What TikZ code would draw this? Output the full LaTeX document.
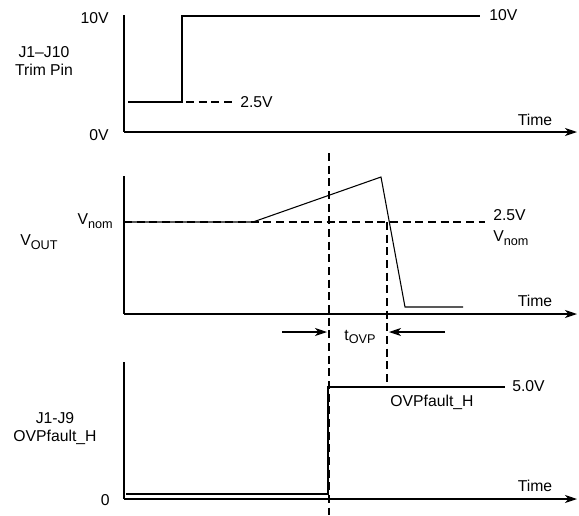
\documentclass[tikz,border=0pt]{standalone}
\usepackage{fontspec}
\setmainfont{Liberation Sans}
\usetikzlibrary{arrows.meta}
\usetikzlibrary{calc}

\newcommand{\lowtxt}[1]{\raisebox{-0.4ex}{\fontsize{9.5}{10}\selectfont #1}}

\tikzset{
	axis/.style={line width=0.9pt,-{Stealth[length=9pt,width=6pt,inset=2.5pt]}},
	wave/.style={line width=0.8pt},
	guide/.style={line width=0.8pt,dash pattern=on 6pt off 3.5pt},
	lbl/.style={inner sep=0pt}
}

\begin{document}
\begin{tikzpicture}[x=0.75pt,y=-0.75pt,font=\fontsize{11.8}{13.5}\selectfont]
\useasboundingbox (0,0) rectangle (579,515);
% top panel: trim pin
\coordinate (t-top) at (124,15);
\coordinate (t-o) at (124,132);
\coordinate (t-end) at (577,132);
\coordinate (t-1) at (128,102);
\coordinate (t-2) at (182,102);
\coordinate (t-3) at (182,16);
\coordinate (t-4) at (480,16);
\coordinate (t-d1) at (186,102);
\coordinate (t-d2) at (235,102);
\draw[wave] (t-top) -- (t-o);
\draw[axis] (t-o) -- (t-end);
\draw[wave] (t-1) -- (t-2) -- (t-3) -- (t-4);
\draw[guide] (t-d1) -- (t-d2);
\node[lbl,anchor=west] (t-lo) at (240,102) {2.5V};
\node[lbl,anchor=west] (t-hi) at (489,15) {10V};
\node[lbl,anchor=east] (t-10) at (109,18) {10V};
\node[lbl,anchor=east] (t-0) at (109,135) {0V};
\node[lbl,align=center] (t-name) at (44,61) {J1--J10\\Trim Pin};
\node[lbl] (t-time) at (535,120) {Time};
%\node[lbl] at (535,120) {Time};
% middle panel: output voltage
\coordinate (v-top) at (124,176);
\coordinate (v-o) at (124,314);
\coordinate (v-end) at (577,314);
\coordinate (v-1) at (124,222);
\coordinate (v-2) at (253,222);
\coordinate (v-3) at (381,177);
\coordinate (v-4) at (405,307);
\coordinate (v-5) at (463,307);
\coordinate (v-d) at (485,222);
\draw[wave] (v-top) -- (v-o);
\draw[axis] (v-o) -- (v-end);
\draw[guide] (v-1) -- (v-d);
\draw[wave] (v-1) -- (v-2) -- (v-3) -- (v-4) -- (v-5);
\node[lbl,anchor=west] (v-25) at (493,215) {2.5V};
\node[lbl,anchor=west] (v-nomr) at (493,238) {V\lowtxt{nom}};
\node[lbl,anchor=east] (v-noml) at (113,221) {V\lowtxt{nom}};
\node[lbl] (v-name) at (39,242) {V\lowtxt{OUT}};
\node[lbl] (v-time) at (535,301) {Time};
% dashed markers and t_OVP
\coordinate (m-1a) at (329,153);
\coordinate (m-1b) at (329,515);
\coordinate (m-2a) at (387,222);
\coordinate (m-2b) at (387,386);
\draw[guide] (m-1a) -- (m-1b);
\draw[guide] (m-2a) -- (m-2b);
\coordinate (a-1) at (282,332);
\coordinate (a-2) at (327,332);
\coordinate (a-3) at (445,332);
\coordinate (a-4) at (389,332);
\path[axis,line width=0.8pt]
(a-1) edge (a-2)
(a-3) edge (a-4)
;
\node[lbl] (tovp) at (360,337) {t\lowtxt{OVP}};
% bottom panel: OVPfault_H
\coordinate (f-top) at (124,362);
\coordinate (f-o) at (124,499);
\coordinate (f-end) at (577,499);
\coordinate (f-1) at (126,494);
\coordinate (f-2) at (328,494);
\coordinate (f-3) at (328,387);
\coordinate (f-4) at (505,387);
\draw[wave] (f-top) -- (f-o);
\draw[axis] (f-o) -- (f-end);
\draw[wave] (f-1) -- (f-2) -- (f-3) -- (f-4);
\node[lbl,anchor=west] (f-hi) at (512,386) {5.0V};
\node[lbl] (f-sig) at (432,402) {OVPfault\_H};
\node[lbl,anchor=east] (f-0) at (110,500) {0};
\node[lbl,align=center] (f-name) at (55,429) {J1-J9\\OVPfault\_H};
\node[lbl] (f-time) at (535,486) {Time};
\end{tikzpicture}
\end{document}
